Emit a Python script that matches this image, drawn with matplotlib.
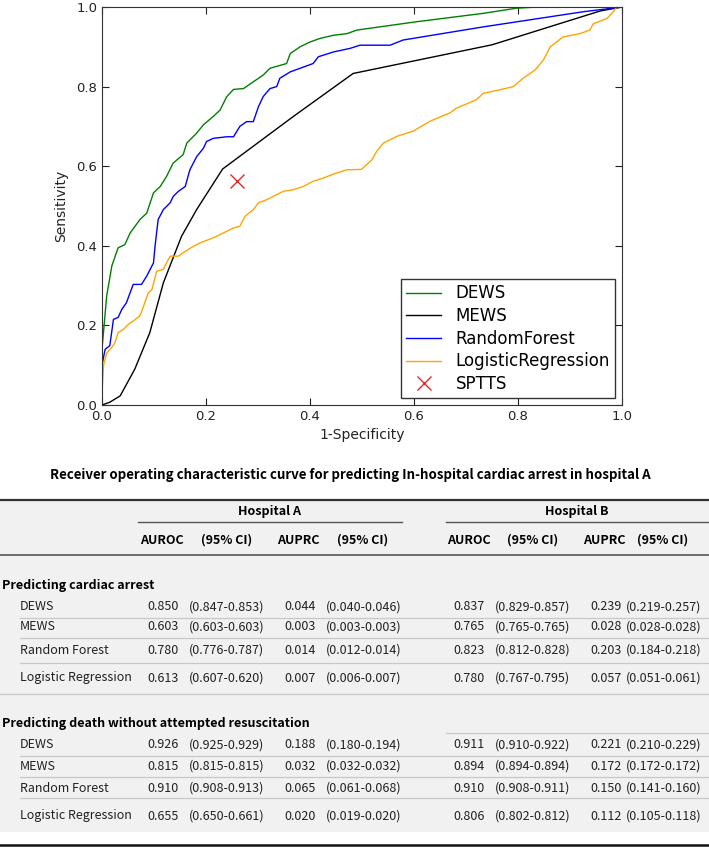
import numpy as np
import matplotlib
matplotlib.use("Agg")
import matplotlib.pyplot as plt
from matplotlib.lines import Line2D

# ---- ROC curves ----
dews_x = [0, 0, 0.009, 0.019, 0.031, 0.044, 0.054, 0.073, 0.086, 0.099, 0.112, 0.124, 0.137, 0.156,
          0.163, 0.182, 0.195, 0.214, 0.227, 0.240, 0.253, 0.272, 0.291, 0.310, 0.323, 0.355, 0.362,
          0.381, 0.400, 0.419, 0.445, 0.471, 0.490, 0.605, 0.733, 0.797, 0.839, 1.0]
dews_y = [0, 0.14, 0.274, 0.35, 0.395, 0.403, 0.432, 0.466, 0.482, 0.533, 0.549, 0.574, 0.608, 0.629,
          0.658, 0.683, 0.704, 0.725, 0.741, 0.775, 0.793, 0.795, 0.812, 0.829, 0.846, 0.858, 0.883,
          0.900, 0.912, 0.921, 0.929, 0.933, 0.942, 0.963, 0.984, 0.997, 1.0, 1.0]

mews_x = [0, 0.015, 0.035, 0.063, 0.092, 0.118, 0.153, 0.182, 0.232, 0.368, 0.483, 0.75, 0.958, 1.0]
mews_y = [0, 0.007, 0.023, 0.09, 0.182, 0.307, 0.424, 0.491, 0.593, 0.725, 0.833, 0.905, 0.99, 1.0]

rf_x = [0, 0, 0.006, 0.015, 0.022, 0.031, 0.038, 0.047, 0.054, 0.060, 0.076, 0.086, 0.099, 0.102,
        0.108, 0.118, 0.131, 0.137, 0.147, 0.160, 0.169, 0.182, 0.195, 0.201, 0.214, 0.240, 0.253,
        0.265, 0.278, 0.291, 0.301, 0.310, 0.323, 0.336, 0.342, 0.362, 0.381, 0.406, 0.416, 0.445,
        0.477, 0.496, 0.554, 0.579, 0.733, 0.925, 1.0]
rf_y = [0, 0.10, 0.14, 0.149, 0.215, 0.22, 0.24, 0.257, 0.282, 0.303, 0.303, 0.324, 0.357, 0.399,
        0.466, 0.491, 0.508, 0.524, 0.537, 0.549, 0.591, 0.624, 0.645, 0.662, 0.670, 0.674, 0.674,
        0.700, 0.712, 0.712, 0.750, 0.775, 0.795, 0.800, 0.821, 0.837, 0.846, 0.858, 0.875, 0.887,
        0.896, 0.904, 0.904, 0.917, 0.950, 0.988, 1.0]

lr_x = [0, 0, 0.003, 0.009, 0.019, 0.025, 0.031, 0.041, 0.051, 0.060, 0.073, 0.079, 0.089, 0.096,
        0.105, 0.118, 0.124, 0.131, 0.147, 0.160, 0.176, 0.188, 0.214, 0.233, 0.253, 0.265, 0.275,
        0.291, 0.301, 0.317, 0.329, 0.349, 0.368, 0.387, 0.406, 0.425, 0.451, 0.471, 0.499, 0.519,
        0.528, 0.541, 0.567, 0.598, 0.631, 0.669, 0.682, 0.720, 0.733, 0.765, 0.791, 0.810, 0.833,
        0.849, 0.862, 0.887, 0.919, 0.938, 0.945, 0.971, 0.983, 0.990, 1.0]
lr_y = [0, 0.03, 0.10, 0.13, 0.145, 0.157, 0.182, 0.19, 0.203, 0.211, 0.224, 0.245, 0.282, 0.290,
        0.336, 0.341, 0.357, 0.374, 0.374, 0.386, 0.399, 0.407, 0.420, 0.432, 0.445, 0.449, 0.474,
        0.491, 0.508, 0.516, 0.524, 0.537, 0.541, 0.549, 0.562, 0.570, 0.583, 0.591, 0.592, 0.616,
        0.637, 0.658, 0.675, 0.688, 0.713, 0.734, 0.746, 0.767, 0.783, 0.792, 0.800, 0.821, 0.842,
        0.867, 0.900, 0.925, 0.933, 0.942, 0.958, 0.971, 0.988, 1.0, 1.0]

sptts_x = [0.260]
sptts_y = [0.563]

# ---- table values ----
methods = ["DEWS", "MEWS", "Random Forest", "Logistic Regression"]
sections = ["Predicting cardiac arrest", "Predicting death without attempted resuscitation"]
col_heads = ["AUROC", "(95% CI)", "AUPRC", "(95% CI)"]
hospitals = ["Hospital A", "Hospital B"]

ca_a_auroc = ["0.850", "0.603", "0.780", "0.613"]
ca_a_auroc_ci = ["(0.847-0.853)", "(0.603-0.603)", "(0.776-0.787)", "(0.607-0.620)"]
ca_a_auprc = ["0.044", "0.003", "0.014", "0.007"]
ca_a_auprc_ci = ["(0.040-0.046)", "(0.003-0.003)", "(0.012-0.014)", "(0.006-0.007)"]
ca_b_auroc = ["0.837", "0.765", "0.823", "0.780"]
ca_b_auroc_ci = ["(0.829-0.857)", "(0.765-0.765)", "(0.812-0.828)", "(0.767-0.795)"]
ca_b_auprc = ["0.239", "0.028", "0.203", "0.057"]
ca_b_auprc_ci = ["(0.219-0.257)", "(0.028-0.028)", "(0.184-0.218)", "(0.051-0.061)"]

dt_a_auroc = ["0.926", "0.815", "0.910", "0.655"]
dt_a_auroc_ci = ["(0.925-0.929)", "(0.815-0.815)", "(0.908-0.913)", "(0.650-0.661)"]
dt_a_auprc = ["0.188", "0.032", "0.065", "0.020"]
dt_a_auprc_ci = ["(0.180-0.194)", "(0.032-0.032)", "(0.061-0.068)", "(0.019-0.020)"]
dt_b_auroc = ["0.911", "0.894", "0.910", "0.806"]
dt_b_auroc_ci = ["(0.910-0.922)", "(0.894-0.894)", "(0.908-0.911)", "(0.802-0.812)"]
dt_b_auprc = ["0.221", "0.172", "0.150", "0.112"]
dt_b_auprc_ci = ["(0.210-0.229)", "(0.172-0.172)", "(0.141-0.160)", "(0.105-0.118)"]

W, H = 709, 848
fig = plt.figure(figsize=(W / 100, H / 100), dpi=100)
fig.patch.set_facecolor("white")

def fx(px):
    return px / W

def fy(py):
    return 1 - py / H

# ---- ROC plot ----
ax = fig.add_axes([fx(102), fy(405), fx(520), 398 / H])
ax.plot(dews_x, dews_y, color="green", lw=1, label="DEWS")
ax.plot(mews_x, mews_y, color="black", lw=1, label="MEWS")
ax.plot(rf_x, rf_y, color="blue", lw=1, label="RandomForest")
ax.plot(lr_x, lr_y, color="orange", lw=1, label="LogisticRegression")
ax.plot(sptts_x, sptts_y, "x", color="#e8282d", ms=10, mew=1, label="SPTTS", linestyle="none")
ax.set_xlim(0, 1)
ax.set_ylim(0, 1)
ticks = np.arange(0, 1.01, 0.2)
ax.set_xticks(ticks)
ax.set_yticks(ticks)
ax.set_xticklabels(["%.1f" % t for t in ticks])
ax.set_yticklabels(["%.1f" % t for t in ticks])
ax.tick_params(direction="in", top=True, right=True, length=5, labelsize=9.5, colors="#222222", pad=3.5)
for s in ax.spines.values():
    s.set_color("#333333")
ax.set_xlabel("1-Specificity", fontsize=10, color="#222222", labelpad=4)
ax.set_ylabel("Sensitivity", fontsize=10, color="#222222", labelpad=6)
leg = ax.legend(loc="lower right", fontsize=12, fancybox=False, framealpha=1,
                edgecolor="#333333", borderaxespad=0.42, handlelength=2.1, handletextpad=0.85,
                labelspacing=0.28, borderpad=0.3)
leg.get_frame().set_linewidth(1)

# ---- caption ----
tfont = ["Noto Sans CJK KR", "DejaVu Sans"]
fig.text(fx(350), fy(475), "Receiver operating characteristic curve for predicting In-hospital cardiac arrest in hospital A",
         ha="center", va="center", fontsize=9.6, fontweight="bold", family=tfont)

# ---- table ----
bg = plt.Rectangle((0, fy(832)), 1, (832 - 501) / H, transform=fig.transFigure,
                   facecolor="#f1f1f1", edgecolor="none", zorder=0)
fig.patches.append(bg)

def hline(py, x0, x1, color, lw):
    fig.add_artist(Line2D([fx(x0), fx(x1)], [fy(py), fy(py)], color=color, lw=lw,
                          transform=fig.transFigure))

hline(500, 0, 709, "#333333", 1.6)
hline(522, 138, 402, "#555555", 1.0)
hline(522, 446, 709, "#555555", 1.0)
hline(555, 0, 709, "#555555", 1.2)
hline(845, 0, 709, "#111111", 1.8)

fs = 9.0
fig.text(fx(270), fy(512), hospitals[0], ha="center", va="center", fontsize=fs, fontweight="bold", family=tfont)
fig.text(fx(577), fy(512), hospitals[1], ha="center", va="center", fontsize=fs, fontweight="bold", family=tfont)

head_x = [140, 201, 277, 337, 447, 507, 583, 637]
for i, hx in enumerate(head_x):
    fig.text(fx(hx), fy(540), col_heads[i % 4], ha="left", va="center", fontsize=fs,
             fontweight="bold", family=tfont)

val_x = [147, 189, 284, 326, 453, 495, 590, 626]
blocks = [
    (sections[0], 586, [607, 627, 650, 678], [618, 638, 663], 694,
     [ca_a_auroc, ca_a_auroc_ci, ca_a_auprc, ca_a_auprc_ci,
      ca_b_auroc, ca_b_auroc_ci, ca_b_auprc, ca_b_auprc_ci]),
    (sections[1], 723, [745, 766, 788, 816], [756, 777, 798], None,
     [dt_a_auroc, dt_a_auroc_ci, dt_a_auprc, dt_a_auprc_ci,
      dt_b_auroc, dt_b_auroc_ci, dt_b_auprc, dt_b_auprc_ci]),
]
for title, ty, rows, lines, endline, cols in blocks:
    fig.text(fx(2), fy(ty), title, ha="left", va="center", fontsize=fs, fontweight="bold", family=tfont)
    for r, ry in enumerate(rows):
        fig.text(fx(20), fy(ry), methods[r], ha="left", va="center", fontsize=fs, family=tfont,
                 color="#222222")
        for c, cx in enumerate(val_x):
            fig.text(fx(cx), fy(ry), cols[c][r], ha="left", va="center", fontsize=fs,
                     family=tfont, color="#222222")
    for ly in lines:
        hline(ly, 20, 709, "#c8c8c8", 0.9)
    if endline:
        hline(endline, 0, 709, "#c8c8c8", 1.0)
hline(733, 446, 709, "#c8c8c8", 0.9)

fig.savefig("out.png", dpi=100, facecolor="white")
